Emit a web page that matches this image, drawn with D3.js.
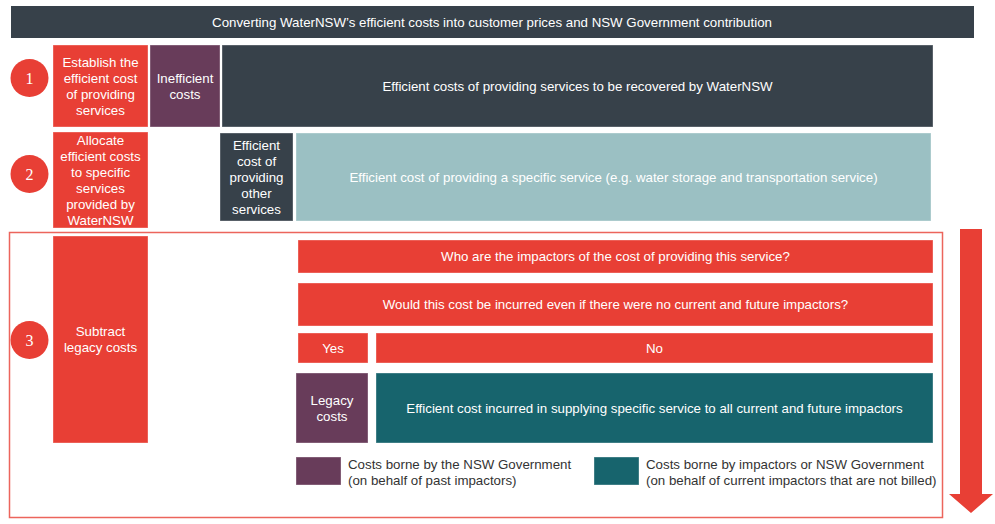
<!doctype html>
<html>
  <head>
    <script src="https://cdn.jsdelivr.net/npm/d3@7/dist/d3.min.js"></script>
    <style>
    body { margin: 0; background: #fff; }
    svg { font-family: "Liberation Sans", Arial, sans-serif; }
    .box { stroke: rgba(255,255,255,0.35); stroke-width: 1; }
    .lbl { fill: #fff; font-size: 13.3px; text-anchor: middle; }
    .leg { fill: #333; font-size: 13.3px; }
    .num { fill: #fff; font-family: "Liberation Serif", serif; font-size: 16px; text-anchor: middle; }
    </style>
  </head>
  <body>
    <svg width="995" height="524"></svg>
    <script>
      // text content
      var title = "Converting WaterNSW\u2019s efficient costs into customer prices and NSW Government contribution";
      var steps = ["1", "2", "3"];
      var stepLabels = [
        ["Establish the", "efficient cost", "of providing", "services"],
        ["Allocate", "efficient costs", "to specific", "services", "provided by", "WaterNSW"],
        ["Subtract", "legacy costs"]
      ];
      var boxLabels = [
        ["Inefficient", "costs"],
        ["Efficient costs of providing services to be recovered by WaterNSW"],
        ["Efficient", "cost of", "providing", "other", "services"],
        ["Efficient cost of providing a specific service (e.g. water storage and transportation service)"],
        ["Who are the impactors of the cost of providing this service?"],
        ["Would this cost be incurred even if there were no current and future impactors?"],
        ["Yes"],
        ["No"],
        ["Legacy", "costs"],
        ["Efficient cost incurred in supplying specific service to all current and future impactors"]
      ];
      var boxKinds = ["purple", "dark", "dark", "light", "red", "red", "red", "red", "purple", "teal"];
      var legendLabels = [
        ["Costs borne by the NSW Government", "(on behalf of past impactors)"],
        ["Costs borne by impactors or NSW Government", "(on behalf of current impactors that are not billed)"]
      ];
      var legendKinds = ["purple", "teal"];

      var color = d3.scaleOrdinal()
        .domain(["red", "purple", "dark", "light", "teal"])
        .range(["#e83f35", "#683c5a", "#37414a", "#9bc0c3", "#17646d"]);

      // layout grid (pixels)
      var layout = [
        {x0: 150, x1: 220, y0: 45, y1: 127},
        {x0: 222, x1: 933, y0: 45, y1: 127},
        {x0: 220, x1: 293, y0: 133, y1: 221},
        {x0: 296, x1: 931, y0: 133, y1: 221},
        {x0: 298, x1: 933, y0: 240, y1: 273},
        {x0: 298, x1: 933, y0: 283, y1: 326},
        {x0: 298, x1: 368, y0: 333, y1: 363},
        {x0: 376, x1: 933, y0: 333, y1: 363},
        {x0: 296, x1: 368, y0: 373, y1: 443},
        {x0: 376, x1: 933, y0: 373, y1: 443}
      ];
      var stepLayout = [
        {y0: 45, y1: 127, cy: 78},
        {y0: 132, y1: 228, cy: 174},
        {y0: 236, y1: 443, cy: 340}
      ];
      var legendLayout = [{x: 296}, {x: 594}];

      var svg = d3.select("svg");
      var lineH = 16;

      function addLines(g, lines, cx, cy, cls) {
        var t = g.append("text").attr("class", cls);
        lines.forEach((l, i) => {
          t.append("tspan")
            .attr("x", cx)
            .attr("y", cy + (i - (lines.length - 1) / 2) * lineH)
            .attr("dy", "0.35em")
            .text(l);
        });
      }

      // title bar
      svg.append("rect")
        .attr("x", 11).attr("y", 6).attr("width", 963).attr("height", 32)
        .style("fill", color("dark"));
      svg.append("text").attr("class", "lbl")
        .attr("x", 492).attr("y", 22).attr("dy", "0.35em")
        .text(title);

      // step 3 outline
      svg.append("rect")
        .attr("x", 9.5).attr("y", 232.5).attr("width", 933).attr("height", 285)
        .style("fill", "none").style("stroke", "#ec655c").style("stroke-width", 1.5);

      // step boxes and circles
      steps.forEach((s, i) => {
        var L = stepLayout[i];
        var g = svg.append("g");
        g.append("rect").attr("class", "box")
          .attr("x", 53).attr("y", L.y0).attr("width", 95).attr("height", L.y1 - L.y0)
          .style("fill", color("red"));
        addLines(g, stepLabels[i], 100.5, (L.y0 + L.y1) / 2, "lbl");
        g.append("circle")
          .attr("cx", 29.5).attr("cy", L.cy).attr("r", 19)
          .style("fill", color("red"));
        g.append("text").attr("class", "num")
          .attr("x", 29.5).attr("y", L.cy).attr("dy", "0.35em").text(s);
      });

      // content boxes
      boxLabels.forEach((lines, i) => {
        var L = layout[i];
        var g = svg.append("g");
        g.append("rect").attr("class", "box")
          .attr("x", L.x0).attr("y", L.y0)
          .attr("width", L.x1 - L.x0).attr("height", L.y1 - L.y0)
          .style("fill", color(boxKinds[i]));
        addLines(g, lines, (L.x0 + L.x1) / 2, (L.y0 + L.y1) / 2, "lbl");
      });

      // legend
      legendLabels.forEach((lines, i) => {
        var x = legendLayout[i].x;
        svg.append("rect").attr("class", "box")
          .attr("x", x).attr("y", 457).attr("width", 45).attr("height", 28)
          .style("fill", color(legendKinds[i]));
        var t = svg.append("text").attr("class", "leg");
        lines.forEach((l, j) => {
          t.append("tspan").attr("x", x + 52).attr("y", 464 + j * 16)
            .attr("dy", "0.35em").text(l);
        });
      });

      // down arrow
      svg.append("path")
        .attr("d", "M960,229 L982,229 L982,494 L993,494 L971,513 L949,494 L960,494 Z")
        .style("fill", color("red"));
    </script>
  </body>
</html>
